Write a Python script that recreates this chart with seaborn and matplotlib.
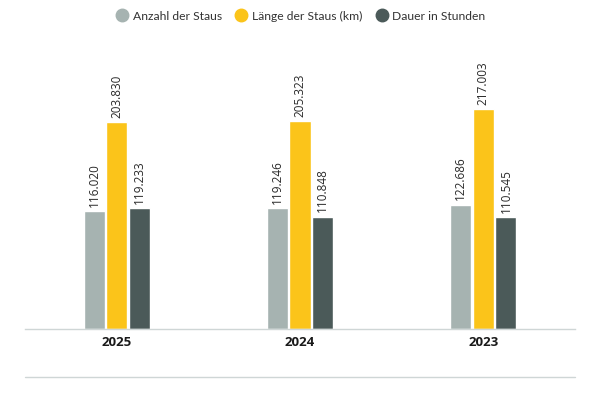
import pandas as pd
import seaborn as sns
import matplotlib.pyplot as plt
from matplotlib.lines import Line2D

# Data
years = ['2025', '2024', '2023']
anzahl = [116020, 119246, 122686]
laenge = [203830, 205323, 217003]
dauer = [119233, 110848, 110545]

series_names = ['Anzahl der Staus', 'Länge der Staus (km)', 'Dauer in Stunden']
colors = ['#a6b3b1', '#fbc41a', '#4b5a59']

df = pd.DataFrame({
    'Jahr': years * 3,
    'Serie': [series_names[0]] * 3 + [series_names[1]] * 3 + [series_names[2]] * 3,
    'Wert': anzahl + laenge + dauer,
})

sns.set_style('white')
plt.rcParams['font.family'] = ['Open Sans', 'DejaVu Sans']

fig = plt.figure(figsize=(6, 4), dpi=100)
ax = fig.add_axes([25 / 600, 0.1775, 550 / 600, 0.7225])

sns.barplot(data=df, x='Jahr', y='Wert', hue='Serie', order=years,
            hue_order=series_names, palette=colors, width=0.37, gap=0.07,
            saturation=1, legend=False, ax=ax)

# Value labels with German thousands separator
for container in ax.containers:
    labels = [f'{v:,.0f}'.replace(',', '.') for v in container.datavalues]
    ax.bar_label(container, labels=labels, rotation=90, padding=3,
                 fontsize=8.5, color='#2a2a2a')

ax.set_xlim(-0.5, 2.5)
ax.set_ylim(0, 285000)
ax.set_xlabel('')
ax.set_ylabel('')
ax.set_yticks([])
for side in ['top', 'left', 'right']:
    ax.spines[side].set_visible(False)
ax.spines['bottom'].set_color('#cfd6d6')
ax.spines['bottom'].set_linewidth(1)
ax.tick_params(axis='x', length=0, pad=5)
for lbl in ax.get_xticklabels():
    lbl.set_fontweight('bold')
    lbl.set_fontsize(9.5)
    lbl.set_color('#1a1a1a')

# Bottom separator line
fig.add_artist(Line2D([25 / 600, 575 / 600], [0.0575, 0.0575],
                      color='#cfd6d6', linewidth=1))

# Legend
handles = [Line2D([0], [0], marker='o', linestyle='', markersize=9,
                  markerfacecolor=c, markeredgecolor=c) for c in colors]
fig.legend(handles, series_names, loc='center', bbox_to_anchor=(0.5, 0.96),
           ncol=3, frameon=False, handletextpad=0.3, columnspacing=1.0,
           handlelength=1.2, labelcolor='#333333',
           prop={'family': 'Lato', 'size': 8.7})

fig.savefig('out.png', dpi=100)
